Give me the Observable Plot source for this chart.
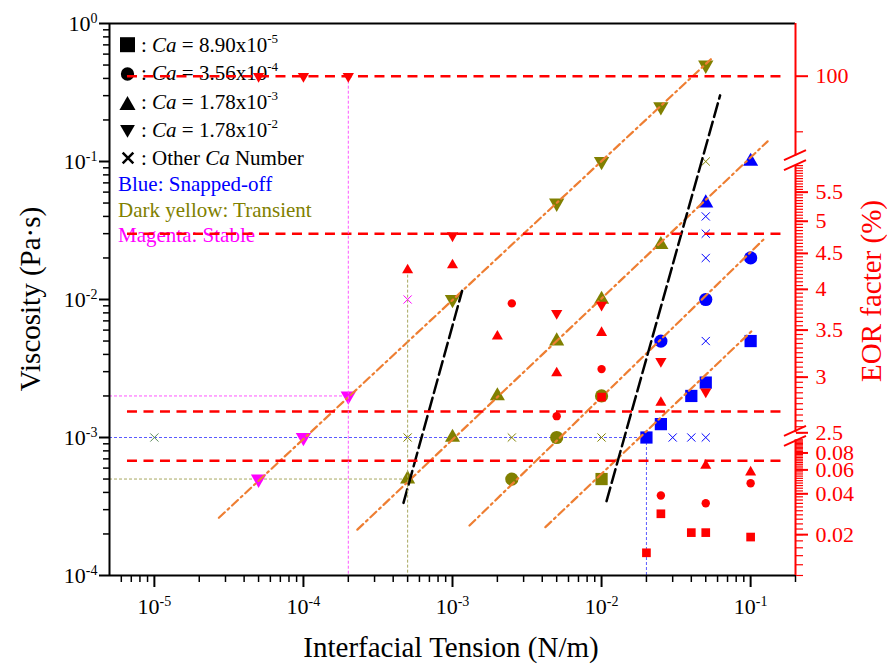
<!DOCTYPE html>
<html><head><meta charset="utf-8">
<script src="https://cdn.jsdelivr.net/npm/d3@7"></script>
<script src="https://cdn.jsdelivr.net/npm/@observablehq/plot@0.6"></script>
<style>
body{margin:0;background:#fff}
#wrap{position:relative;width:887px;height:664px;overflow:hidden}
#wrap svg{position:absolute;left:0;top:0}
</style></head><body><div id="wrap"></div>
<script>
// ---------- data (interfacial tension N/m, viscosity Pa·s) ----------
const xDomain = [5e-6, 0.2];
const yDomain = [1e-4, 1];
const xMajor = [1e-5, 1e-4, 1e-3, 1e-2, 1e-1];
const yMajor = [1e-4, 1e-3, 1e-2, 1e-1, 1];

// Blue: snapped-off
const blueSquares = [[0.02,0.001],[0.025,0.00125],[0.04,0.002],[0.05,0.0025],[0.1,0.005]];
const blueCircles = [[0.025,0.005],[0.05,0.01],[0.1,0.02]];
const blueUp = [[0.05,0.05],[0.1,0.1]];
const blueCross = [[0.05,0.04],[0.05,0.03],[0.05,0.02],[0.05,0.005],[0.03,0.001],[0.04,0.001],[0.05,0.001]];
// Dark yellow: transient
const oliveSquares = [[0.01,5e-4]];
const oliveCircles = [[0.0025,5e-4],[0.005,0.001],[0.01,0.002]];
const oliveUp = [[5e-4,5e-4],[1e-3,1e-3],[2e-3,2e-3],[5e-3,5e-3],[0.01,0.01],[0.025,0.025]];
const oliveDown = [[1e-3,0.01],[5e-3,0.05],[0.01,0.1],[0.025,0.25],[0.05,0.5]];
const oliveCross = [[5e-4,0.001],[0.0025,0.001],[0.01,0.001],[0.05,0.1]];
// Magenta: stable
const magentaDown = [[5e-5,5e-4],[1e-4,1e-3],[2e-4,2e-3]];
const magentaCross = [[5e-4,0.01]];
const greenCross = [[1e-5,0.001]];

// Red: EOR factor (%) on the broken right axis
const eorDomain = [0.01, 0.1, 2.5, 6, 86, 110.5];
const eorMajor = [0.02,0.04,0.06,0.08,2.5,3,3.5,4,4.5,5,5.5,100];
const eorSegments = [[0.01,0.1],[2.5,6],[86,110.5]];
const redDown = [[5e-5,100],[1e-4,100],[2e-4,100],[1e-3,4.77],[0.005,3.70],[0.01,3.80],[0.025,3.16],[0.05,2.86]];
const redUp = [[5e-4,4.26],[1e-3,4.33],[0.002,3.43],[0.01,3.47],[0.005,3.04],[0.025,2.76],[0.05,0.0647],[0.1,0.0577]];
const redCircles = [[0.0025,3.82],[0.01,3.08],[0.005,2.64],[0.1,0.0479],[0.025,0.0389],[0.05,0.0341]];
const redSquares = [[0.01,2.81],[0.025,0.0285],[0.04,0.0207],[0.05,0.0207],[0.1,0.0192],[0.02,0.0147]];
const eorLevels = [100, 4.8, 2.68, 0.07];
const eorLevelSpan = [6.6e-6, 0.16];

// fitted trend lines (endpoints)
const fitLines = [
  [[2.71e-5,2.62e-4],[0.0541,0.551]],
  [[2.3e-4,2.15e-4],[0.130,0.140]],
  [[1.3e-3,2.3e-4],[0.122,0.0272]],
  [[4.2e-3,2.24e-4],[0.103,5.98e-3]]
];
const boundaryLines = [
  [[4.69e-4,3.36e-4],[1.16e-3,0.01155]],
  [[0.0108,3.46e-4],[0.0624,0.3015]]
];
// guide lines: horizontal at viscosity to x end
const guides = [
  {y: 0.002, xEnd: 2e-4, c: "#ff55ff"},
  {y: 0.001, xEnd: 0.02, c: "#5a5aff"},
  {y: 5e-4, xEnd: 5e-4, c: "#a8a860"}
];

// ---------- styles ----------
const W = 887, H = 664;
const M = {marginLeft: 109, marginRight: 92, marginTop: 23, marginBottom: 89};
const font = "'Liberation Serif','Times New Roman',serif";
const blue = "#0000ff", olive = "#808000", magenta = "#ff00ff", red = "#ff0000", orange = "#ee7e32";
const X = d => d[0], Y = d => d[1];
const s3 = Math.sqrt(3);
const triDown = {draw(ctx, size) {
  const y = -Math.sqrt(size / (s3 * 3));
  ctx.moveTo(0, -y * 2); ctx.lineTo(-s3 * y, y); ctx.lineTo(s3 * y, y); ctx.closePath();
}};
const dot = (data, symbol, fill, r) => Plot.dot(data, {x: X, y: Y, symbol, fill, r});
const cross = (data, stroke) => Plot.dot(data, {x: X, y: Y, symbol: "times", stroke, r: 3.8, strokeWidth: 1});
const segs = lines => lines.flatMap((s, i) => s.map(p => ({x: p[0], y: p[1], id: i})));

const xMinor = [], yMinor = [];
for (let e = -6; e <= -1; e++) for (let k = 2; k <= 9; k++) { const v = k * 10 ** e; if (v >= xDomain[0] && v <= xDomain[1]) xMinor.push(v); }
for (let e = -4; e <= -1; e++) for (let k = 2; k <= 9; k++) yMinor.push(k * 10 ** e);
const eorMinor = [];
for (let v = 10; v <= 100; v += 2) eorMinor.push(v / 1000);
for (let v = 250; v <= 600; v += 5) eorMinor.push(v / 100);
eorMinor.push(90);

const supFmt = d => "10^" + Math.round(Math.log10(d));

const main = Plot.plot({
  width: W, height: H, ...M,
  style: {fontFamily: font, background: "white", color: "black", overflow: "visible"},
  x: {type: "log", domain: xDomain},
  y: {type: "log", domain: yDomain},
  marks: [
    ...guides.map(g => Plot.ruleY([g.y], {x1: xDomain[0], x2: g.xEnd, stroke: g.c, strokeWidth: 1, strokeDasharray: "3,2"})),
    Plot.ruleX([0.02], {y1: 0.001, y2: yDomain[0], stroke: "#5a5aff", strokeWidth: 1, strokeDasharray: "3,2"}),
    cross(greenCross, "#5a8a5a"),
    cross(oliveCross, olive),
    cross(blueCross, blue),
    cross(magentaCross, magenta),
    dot(blueSquares, "square", blue, 6.9),
    dot(blueCircles, "circle", blue, 6.6),
    dot(blueUp, "triangle", blue, 5.6),
    dot(oliveSquares, "square", olive, 6.9),
    dot(oliveCircles, "circle", olive, 6.6),
    dot(oliveUp, "triangle", olive, 5.6),
    dot(oliveDown, triDown, olive, 5.7),
    dot(magentaDown, triDown, magenta, 5.7),
    Plot.line(segs(fitLines), {x: "x", y: "y", z: "id", stroke: orange, strokeWidth: 2.2, strokeDasharray: "8,4,2,4"}),
    Plot.line(segs(boundaryLines), {x: "x", y: "y", z: "id", stroke: "black", strokeWidth: 2.5, strokeDasharray: "14,5"}),
    Plot.ruleY([yDomain[1]], {stroke: "black", strokeWidth: 2}),
    Plot.ruleY([yDomain[0]], {stroke: "black", strokeWidth: 2}),
    Plot.ruleX([xDomain[0]], {stroke: "black", strokeWidth: 2}),
    Plot.axisX(xMajor, {tickSize: 12, tickPadding: 11, fontSize: 22, tickFormat: supFmt, strokeWidth: 2, label: null}),
    Plot.axisX(xMinor, {tickSize: 7, tickFormat: () => "", strokeWidth: 1.5, label: null}),
    Plot.axisY(yMajor, {tickSize: 10, tickPadding: 2, fontSize: 22, tickFormat: supFmt, strokeWidth: 2, label: null}),
    Plot.axisY(yMinor, {tickSize: 6, tickFormat: () => "", strokeWidth: 1.5, label: null})
  ]
});

const eorPlot = Plot.plot({
  width: W, height: H, ...M,
  style: {fontFamily: font, background: "transparent", overflow: "visible"},
  x: {type: "log", domain: xDomain, axis: null},
  y: {type: "log", domain: eorDomain, range: [575, 439.3, 432.3, 165.1, 155.3, 23]},
  marks: [
    Plot.ruleY(eorLevels, {x1: eorLevelSpan[0], x2: eorLevelSpan[1], stroke: red, strokeWidth: 2.5, strokeDasharray: "10,6.5"}),
    Plot.ruleX([2e-4], {y1: 100, y2: eorDomain[0], stroke: "#ff55ff", strokeWidth: 1, strokeDasharray: "3,2"}),
    Plot.ruleX([5e-4], {y1: 4.26, y2: eorDomain[0], stroke: "#a8a860", strokeWidth: 1, strokeDasharray: "3,2"}),
    dot(redSquares, "square", red, 4.9),
    dot(redCircles, "circle", red, 4.2),
    dot(redUp, "triangle", red, 4.1),
    dot(redDown, triDown, red, 4.2),
    Plot.ruleX(eorSegments, {x: xDomain[1], y1: d => d[0], y2: d => d[1], stroke: red, strokeWidth: 2}),
    Plot.axisY(eorMajor, {anchor: "right", tickSize: 12, tickFormat: () => "", color: red, strokeWidth: 2, label: null}),
    Plot.axisY(eorMinor, {anchor: "right", tickSize: 7, tickFormat: () => "", color: red, strokeWidth: 1.2, label: null}),
    Plot.text(eorMajor, {y: d => d, frameAnchor: "right", dx: 20, textAnchor: "start", text: d => String(d), fill: red, fontSize: 22})
  ]
});

// superscripts in tick labels
d3.select(main).selectAll("text").each(function() {
  const m = /^10\^(-?\d+)$/.exec(this.textContent);
  if (!m) return;
  const t = d3.select(this); t.text(null);
  t.append("tspan").text("10");
  t.append("tspan").attr("dy", -8).attr("font-size", 14).text(m[1]);
});
// axis titles
const ms = d3.select(main);
ms.append("text").attr("x", 451).attr("y", 657).attr("text-anchor", "middle").attr("font-size", 29).attr("fill", "black").text("Interfacial Tension (N/m)");
ms.append("text").attr("transform", "translate(40,299) rotate(-90)").attr("text-anchor", "middle").attr("font-size", 29).attr("fill", "black").text("Viscosity (Pa·s)");
const es = d3.select(eorPlot);
es.append("text").attr("transform", "translate(881,291) rotate(-90)").attr("text-anchor", "middle").attr("font-size", 29).attr("fill", red).text("EOR facter (%)");
// axis break marks
const ys = eorPlot.scale("y");
const ax = W - M.marginRight;
[[6, 86], [0.1, 2.5]].forEach(([lo, hi]) => {
  const mid = (ys.apply(lo) + ys.apply(hi)) / 2;
  [-5, 5].forEach(off => es.append("line")
    .attr("x1", ax - 11).attr("y1", mid + off + 5).attr("x2", ax + 11).attr("y2", mid + off - 5)
    .attr("stroke", red).attr("stroke-width", 2));
});

// legend
const legendRows = [
  {sym: "square", val: "8.90x10", exp: "-5"},
  {sym: "circle", val: "3.56x10", exp: "-4"},
  {sym: "up", val: "1.78x10", exp: "-3"},
  {sym: "down", val: "1.78x10", exp: "-2"}
];
const legendNotes = [["Blue: Snapped-off", blue], ["Dark yellow: Transient", olive], ["Magenta: Stable", magenta]];
const lg = d3.create("svg").attr("width", W).attr("height", H).attr("font-family", font).style("pointer-events", "none");
const base = [52, 80, 109, 137, 165];
const symY = [44.7, 74, 105.3, 129.3, 158];
const symSize = {square: 225, circle: 139, up: 112, down: 95};
legendRows.forEach((r, i) => {
  const type = r.sym === "square" ? d3.symbolSquare : r.sym === "circle" ? d3.symbolCircle : r.sym === "up" ? d3.symbolTriangle : triDown;
  lg.append("path").attr("transform", `translate(127.5,${symY[i]})`).attr("d", d3.symbol(type, symSize[r.sym])()).attr("fill", "black");
  const t = lg.append("text").attr("x", 141).attr("y", base[i]).attr("font-size", 21).attr("fill", "black");
  t.append("tspan").text(": ");
  t.append("tspan").attr("font-style", "italic").text("Ca");
  t.append("tspan").text(" = " + r.val);
  t.append("tspan").attr("dy", -9).attr("font-size", 13).text(r.exp);
});
lg.append("path").attr("transform", `translate(128,${symY[4]})`).attr("d", d3.symbol(d3.symbolTimes, 76)()).attr("stroke", "black").attr("stroke-width", 2.5).attr("fill", "none");
{
  const t = lg.append("text").attr("x", 141).attr("y", base[4]).attr("font-size", 21).attr("fill", "black");
  t.append("tspan").text(": Other ");
  t.append("tspan").attr("font-style", "italic").text("Ca");
  t.append("tspan").text(" Number");
}
const noteBase = [191, 217, 242];
legendNotes.forEach(([txt, c], i) => lg.append("text").attr("x", 118).attr("y", noteBase[i]).attr("font-size", 21).attr("fill", c).text(txt));

const wrap = document.getElementById("wrap");
wrap.appendChild(main);
wrap.appendChild(lg.node());
wrap.appendChild(eorPlot);
</script></body></html>
